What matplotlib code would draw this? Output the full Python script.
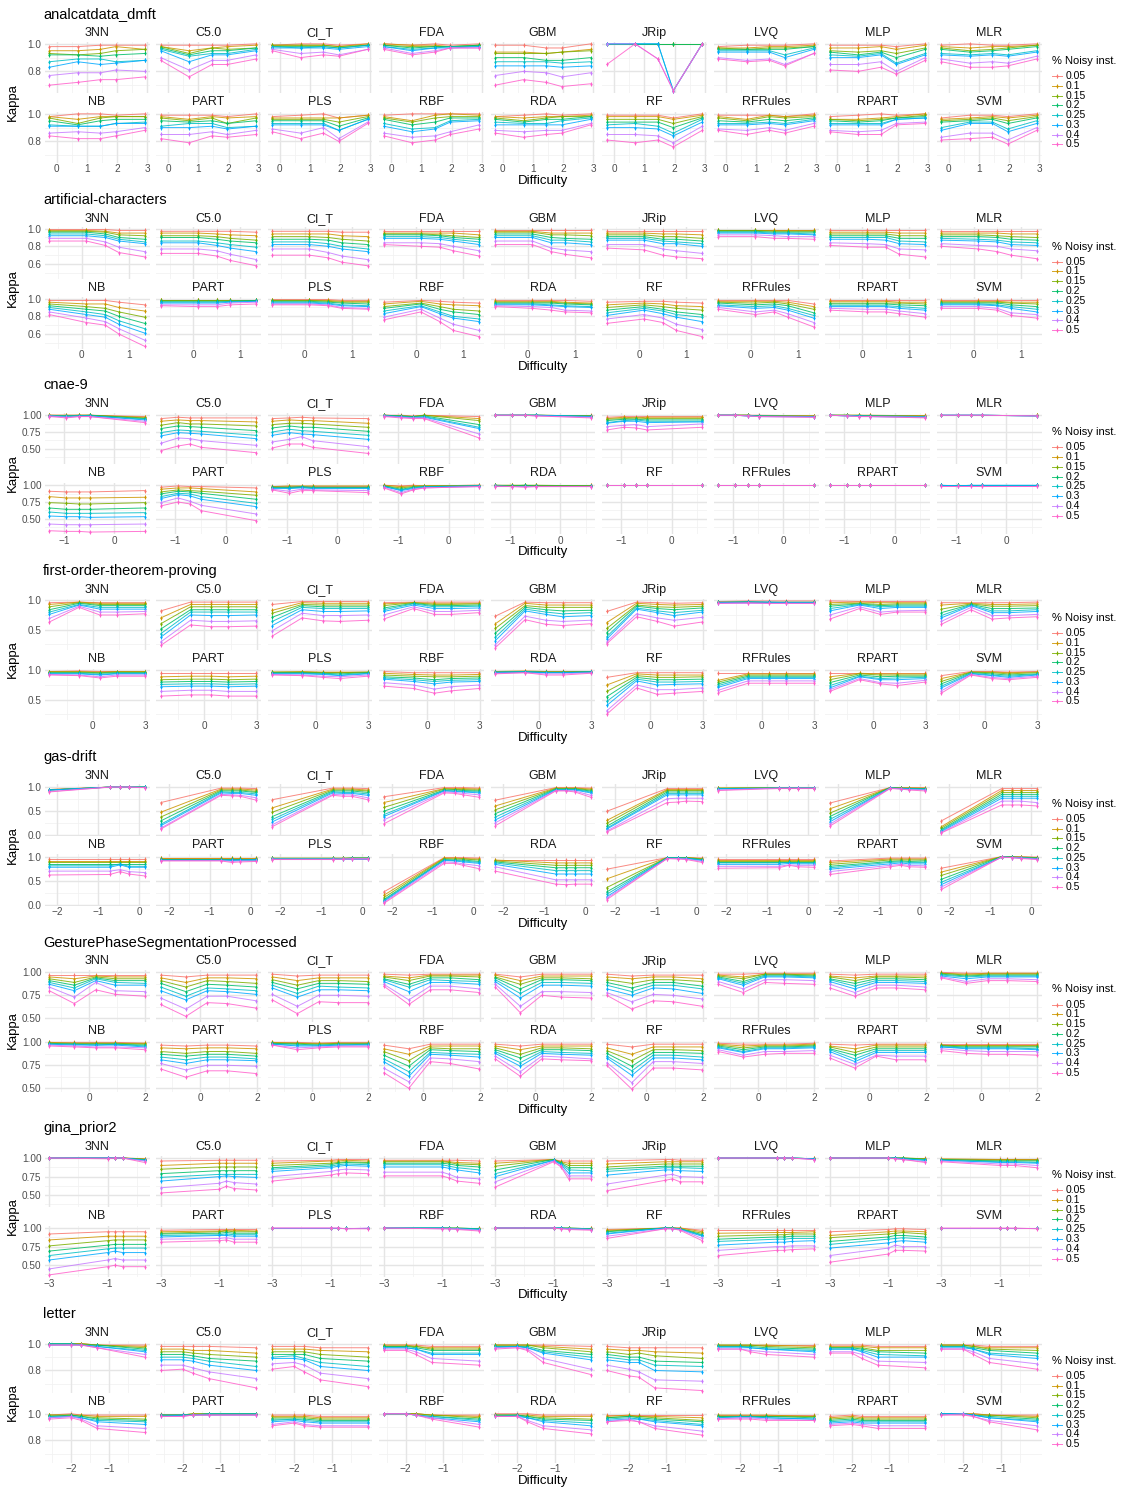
import matplotlib
matplotlib.use("Agg")
import matplotlib.pyplot as plt
from matplotlib.lines import Line2D
import numpy as np

plt.rcParams['font.family'] = ['Liberation Sans', 'DejaVu Sans']

W, H = 1128, 1490

NOISE_LEVELS = ["0.05", "0.1", "0.15", "0.2", "0.25", "0.3", "0.4", "0.5"]
NOISE_COLORS = ["#F8766D", "#CD9600", "#7CAE00", "#00BE67",
                "#00BFC4", "#00A9FF", "#C77CFF", "#FF61CC"]
CLASSIFIERS = ["3NN", "C5.0", "CI_T", "FDA", "GBM", "JRip", "LVQ", "MLP", "MLR",
               "NB", "PART", "PLS", "RBF", "RDA", "RF", "RFRules", "RPART", "SVM"]

# Difficulty values of the five test partitions of each dataset
X_ANALCAT = [-0.25, 0.69, 1.45, 1.96, 2.92]
X_ARTIF = [-0.69, 0.10, 0.50, 0.79, 1.34]
X_CNAE = [-1.29, -0.95, -0.71, -0.49, 0.60]
X_FOTP = [-2.49, -0.79, 0.40, 1.35, 2.96]
X_GAS = [-2.20, -0.72, -0.46, -0.25, 0.14]
X_GESTURE = [-1.41, -0.52, 0.24, 0.94, 1.98]
X_GINA = [-3.0, -1.0, -0.75, -0.49, 0.27]
X_LETTER = [-2.58, -2.0, -1.73, -1.31, -0.05]

# Kappa x 100; rows separated by "|" follow NOISE_LEVELS, columns follow difficulty
KAPPA_ANALCAT = {
    "3NN": "98 98 99 99 99|95 95 96 98 96|93 92 93 95 96|92 92 91 92 93|87 89 89 87 88|83 87 85 86 88|77 79 79 81 80|70 72 74 74 76",
    "C5.0": "99 99 99 99 100|98 95 97 98 99|98 93 97 96 97|97 92 95 95 97|96 91 93 93 96|95 87 92 92 95|90 81 88 88 92|88 76 85 85 89",
    "CI_T": "99 100 100 99 100|99 99 99 98 100|99 99 99 98 99|98 98 98 97 99|98 97 98 97 99|97 97 97 96 98|96 93 94 92 96|95 90 92 91 96",
    "FDA": "100 99 100 99 100|100 99 99 98 99|99 98 98 98 99|99 97 98 98 99|98 96 97 98 98|98 95 97 97 98|97 93 95 97 97|96 92 94 97 97",
    "GBM": "99 99 97 97 100|94 94 93 94 96|93 93 93 94 95|90 90 88 88 90|87 87 87 86 87|84 84 84 83 84|77 80 79 76 79|70 74 72 69 71",
    "JRip": "100 100 100 100 100|100 100 100 100 100|100 100 100 100 100|100 100 100 100 100|100 100 100 66 100|100 100 100 66 100|100 100 89 66 100|85 100 89 66 100",
    "LVQ": "98 99 99 99 100|97 97 98 98 99|97 96 97 97 98|96 96 96 96 98|95 95 95 92 97|94 94 94 90 96|90 88 89 85 93|89 87 88 84 93",
    "MLP": "99 99 99 98 100|97 97 98 96 99|95 94 95 93 97|94 92 94 90 96|92 91 93 86 93|90 90 92 85 92|85 85 87 80 90|81 80 83 78 88",
    "MLR": "99 100 99 99 100|98 97 98 98 99|97 95 96 97 99|96 94 95 96 98|93 92 93 92 95|92 91 92 91 94|89 86 87 86 91|87 83 83 84 89",
    "NB": "98 100 100 99 100|98 96 98 98 98|97 93 97 98 98|95 92 95 96 96|92 91 91 93 94|91 91 91 93 93|86 87 86 87 90|84 82 82 84 88",
    "PART": "99 99 99 98 100|98 96 98 97 98|97 95 97 93 97|95 94 95 93 95|91 93 93 90 91|90 90 91 89 91|85 85 87 85 88|82 79 84 83 85",
    "PLS": "98 99 100 97 99|97 97 97 97 99|96 96 96 94 98|95 95 95 91 97|93 93 93 88 96|92 92 92 88 96|89 86 90 82 94|87 82 86 80 93",
    "RBF": "99 100 100 100 100|98 95 99 100 99|97 94 97 98 98|96 92 94 97 97|93 89 90 95 96|91 87 89 94 95|86 83 84 87 92|84 79 81 85 89",
    "RDA": "98 99 100 99 100|98 97 98 98 99|97 95 97 98 98|96 94 96 96 98|94 93 93 95 97|92 92 92 92 96|88 87 88 88 93|86 83 85 86 92",
    "RF": "99 99 99 97 100|98 98 98 96 99|96 96 96 93 98|94 94 94 90 97|92 93 91 86 96|90 90 89 84 94|85 85 84 79 91|81 79 81 76 88",
    "RFRules": "99 99 99 98 100|98 96 99 98 99|97 95 98 97 98|95 94 96 95 97|93 93 94 93 96|92 92 93 92 95|89 88 90 88 93|88 85 88 86 91",
    "RPART": "98 99 100 99 100|96 96 97 98 100|96 95 96 97 99|95 94 95 97 98|93 93 93 96 97|92 92 92 96 97|88 87 88 93 94|87 85 85 92 93",
    "SVM": "97 99 99 98 100|96 97 98 97 99|95 96 97 95 98|94 95 96 93 97|90 94 94 89 95|88 93 93 87 93|83 86 86 81 90|81 82 83 78 88",
}

KAPPA_ARTIF = {
    "3NN": "99 99 99 98 98|98 98 97 95 95|97 97 96 93 92|96 96 94 90 88|94 94 92 88 85|92 92 90 86 83|89 89 85 79 74|86 86 81 73 68",
    "C5.0": "97 97 97 97 96|95 95 94 93 92|92 92 91 89 87|90 90 88 86 84|86 86 84 82 79|84 84 81 78 74|77 77 75 71 65|72 72 69 64 58",
    "CI_T": "97 97 97 96 96|94 94 94 92 91|91 91 90 88 86|88 88 87 84 82|85 85 83 80 77|82 82 80 77 74|77 77 73 69 65|70 70 67 62 58",
    "FDA": "97 97 97 97 97|95 95 95 95 93|94 94 93 92 90|93 93 92 90 88|91 91 90 88 85|89 89 88 86 82|84 84 83 80 75|82 80 79 75 69",
    "GBM": "98 98 98 98 98|97 97 95 95 95|96 96 93 93 92|94 94 90 89 88|92 92 87 87 85|90 90 84 84 82|86 86 78 76 74|82 82 74 71 67",
    "JRip": "97 97 97 97 97|95 95 94 94 93|93 93 91 91 89|91 91 88 88 86|89 89 86 85 83|87 87 83 83 80|82 82 77 75 72|78 76 70 68 66",
    "LVQ": "99 99 99 99 99|98 98 98 98 98|98 98 97 97 97|97 97 96 96 96|96 96 95 95 94|95 95 94 94 93|93 93 92 91 91|91 91 89 89 88",
    "MLP": "98 98 98 98 98|96 96 96 95 95|94 94 94 92 92|92 92 92 89 89|90 90 90 86 85|88 88 87 83 82|84 83 82 77 76|81 79 79 71 68",
    "MLR": "97 97 97 97 97|95 95 95 94 94|93 93 92 91 90|91 91 90 88 87|89 88 87 85 84|87 86 85 82 81|83 81 80 77 75|80 77 74 70 66",
    "NB": "98 98 98 96 93|96 94 94 90 86|94 91 89 85 79|92 88 86 80 72|90 85 82 75 66|88 82 79 71 61|85 78 74 66 53|82 73 70 60 46",
    "PART": "99 99 99 99 99|98 98 98 98 98|98 98 98 98 98|97 97 97 97 98|96 96 96 97 97|95 95 95 96 97|93 93 93 95 96|92 91 91 93 94",
    "PLS": "99 99 99 98 98|98 98 98 97 97|98 98 97 96 96|97 97 96 95 94|96 96 95 93 92|95 95 94 92 91|94 94 93 90 89|93 93 92 89 88",
    "RBF": "96 98 97 96 95|94 97 94 93 92|91 95 91 88 86|89 94 88 85 82|86 92 85 80 77|83 91 83 78 74|79 88 78 71 64|76 85 74 64 57",
    "RDA": "98 98 98 98 97|97 97 97 96 95|96 96 96 95 94|95 95 95 94 93|94 94 93 92 91|93 93 92 91 90|92 91 90 87 86|91 89 87 85 84",
    "RF": "96 97 97 96 95|93 95 94 92 91|90 93 91 89 87|87 91 88 85 82|84 89 86 82 79|81 87 83 79 74|77 82 78 71 65|72 77 73 64 57",
    "RFRules": "98 98 98 98 94|97 97 97 96 91|96 95 96 94 88|95 93 94 92 84|93 91 92 89 81|92 89 90 87 78|90 85 87 83 73|88 82 85 79 68",
    "RPART": "98 98 98 98 98|97 97 97 96 96|95 95 95 95 94|94 94 94 93 92|92 92 92 91 89|91 91 91 89 87|89 88 88 86 83|87 85 85 83 79",
    "SVM": "98 98 98 98 98|97 97 97 96 96|96 96 96 95 94|95 95 95 93 91|94 94 93 91 88|93 93 92 89 85|91 91 89 84 82|89 89 87 81 78",
}

KAPPA_CNAE = {
    "3NN": "100 100 100 100 98|100 100 100 100 97|100 99 100 100 96|99 99 99 100 95|99 99 99 99 94|99 98 99 99 93|99 97 98 98 91|98 96 98 98 89",
    "C5.0": "95 97 96 96 96|91 93 92 92 90|85 89 87 87 84|80 84 83 82 77|74 78 77 76 70|69 74 73 72 65|58 66 65 62 55|47 54 57 52 44",
    "CI_T": "95 96 97 96 95|91 93 92 92 88|86 88 88 87 82|81 84 82 82 76|75 79 77 76 70|70 74 72 71 64|60 64 68 62 53|51 57 57 52 43",
    "FDA": "100 100 99 100 98|100 99 98 100 95|100 99 98 100 92|100 99 98 99 86|99 98 97 98 82|99 98 96 97 80|99 97 96 96 72|98 96 95 95 66",
    "GBM": "100 100 100 100 100|100 100 100 100 99|100 100 100 100 99|100 100 100 100 99|100 100 100 100 98|100 100 100 100 98|100 100 100 99 97|100 100 100 99 96",
    "JRip": "97 98 98 98 98|95 97 96 97 97|94 95 96 95 95|92 94 94 93 93|89 92 93 91 91|88 91 91 89 90|83 85 86 83 87|78 82 81 78 82",
    "LVQ": "100 100 100 100 99|100 100 100 99 99|100 100 100 99 99|100 100 100 99 98|100 100 99 99 98|100 100 99 98 98|100 100 99 98 97|100 100 99 98 97",
    "MLP": "100 100 100 100 100|100 100 100 100 99|100 100 100 99 99|100 100 99 99 98|100 99 99 99 98|100 99 99 98 97|100 99 98 98 97|100 99 98 98 96",
    "MLR": "100 100 100 100 100|100 100 100 100 100|100 100 100 100 100|100 100 100 100 99|100 100 100 100 99|100 100 100 100 99|100 100 100 100 99|100 100 100 100 99",
    "NB": "91 90 90 90 92|83 81 81 81 82|74 73 72 72 74|66 64 64 64 66|60 58 58 58 59|54 53 53 52 53|42 41 41 41 42|32 31 31 30 31",
    "PART": "97 99 98 98 96|94 96 96 95 90|90 93 92 91 85|87 91 90 88 79|83 88 87 83 73|80 86 84 79 68|74 81 76 70 57|69 75 72 62 47",
    "PLS": "99 99 99 99 99|98 99 99 99 99|98 98 98 98 98|97 97 98 97 97|96 96 97 96 96|95 95 96 95 95|94 91 94 93 92|93 88 92 92 89",
    "RBF": "100 99 100 99 100|100 98 99 99 100|99 96 98 99 99|99 94 97 98 99|98 93 96 98 99|98 92 95 97 99|97 89 94 96 98|96 87 93 96 98",
    "RDA": "100 100 100 100 100|100 100 100 100 100|100 100 100 100 99|100 99 100 99 99|99 99 99 99 99|99 99 99 99 99|99 98 98 98 98|98 98 97 98 98",
    "RF": "100 100 100 100 100|100 100 100 100 100|100 100 100 100 100|100 100 100 100 100|100 100 100 100 100|100 100 100 100 100|100 100 100 100 100|100 100 100 100 100",
    "RFRules": "100 100 100 100 100|100 100 100 100 100|100 100 100 100 100|100 100 100 100 100|100 100 100 100 100|100 100 100 100 100|100 100 100 100 100|100 100 100 100 100",
    "RPART": "100 100 100 100 100|100 100 100 100 100|100 100 100 100 100|100 100 100 100 100|100 100 100 100 100|100 100 100 100 100|100 100 100 100 100|100 100 100 100 100",
    "SVM": "100 100 100 100 100|100 100 100 100 100|100 100 100 100 100|100 100 100 100 100|100 100 100 100 100|100 99 100 100 100|99 99 99 99 99|99 99 99 99 99",
}

KAPPA_FOTP = {
    "3NN": "96 97 96 96 96|93 97 95 95 95|89 96 93 93 93|84 95 91 91 91|80 93 88 88 88|76 92 85 85 85|69 90 80 80 81|63 88 75 75 77",
    "C5.0": "82 97 97 97 97|70 93 93 93 93|60 89 89 89 89|51 84 84 84 84|43 80 80 80 80|37 75 74 74 75|29 66 64 64 65|23 58 55 55 56",
    "CI_T": "93 98 98 98 98|83 96 95 95 95|78 93 92 92 92|71 91 89 89 89|64 88 86 86 86|57 84 81 81 82|48 78 74 74 75|39 70 65 64 66",
    "FDA": "96 97 97 97 97|94 96 95 95 95|91 96 93 93 94|87 95 91 91 92|84 94 89 89 90|81 92 86 86 87|75 89 81 81 83|68 86 76 76 79",
    "GBM": "73 97 96 96 96|60 95 92 92 92|52 91 88 88 88|44 88 84 82 83|37 85 80 77 79|31 82 76 72 74|24 73 66 64 66|19 67 59 57 60",
    "JRip": "81 97 96 95 96|62 95 93 92 93|52 92 89 88 90|45 90 86 84 87|38 87 82 79 83|34 85 79 74 80|29 77 70 66 71|26 72 64 56 63",
    "LVQ": "98 99 99 99 99|98 98 98 98 98|98 98 98 98 98|97 98 97 97 97|97 97 97 97 97|96 97 97 96 96|96 96 96 96 96|95 96 95 95 95",
    "MLP": "99 98 98 98 98|96 97 96 96 96|93 95 93 94 94|90 94 91 92 92|86 93 89 90 90|82 92 86 88 88|75 89 80 82 83|68 86 76 80 80",
    "MLR": "96 96 96 96 97|92 95 93 93 94|85 94 90 90 91|79 93 86 86 87|74 92 82 82 84|70 91 79 79 81|64 88 74 74 76|59 84 68 70 72",
    "NB": "98 99 98 98 98|98 98 97 98 98|97 97 96 97 97|96 96 95 96 96|95 95 93 95 95|94 94 92 94 94|93 92 89 92 92|92 91 87 90 90",
    "PART": "95 95 95 95 95|89 90 90 89 90|84 85 85 84 85|80 81 81 80 81|76 77 77 76 77|72 73 73 72 73|64 66 66 64 64|56 58 58 56 56",
    "PLS": "98 98 98 98 98|97 98 97 97 97|97 97 96 96 97|96 96 95 94 96|95 95 94 92 95|94 94 93 91 94|93 92 90 89 92|92 91 88 86 90",
    "RBF": "98 96 96 96 96|95 93 92 92 93|92 90 89 89 90|89 87 84 86 87|87 84 81 83 84|85 81 77 80 81|79 75 68 72 75|73 69 61 65 69",
    "RDA": "99 99 99 99 99|98 99 98 98 98|98 98 98 98 98|97 98 97 97 98|97 98 96 96 97|96 97 96 96 97|95 96 94 94 96|94 96 92 92 95",
    "RF": "88 96 96 96 96|75 94 92 92 92|64 91 88 88 89|55 88 84 84 85|47 85 80 80 81|40 82 75 76 77|31 75 67 67 70|25 70 59 61 64",
    "RFRules": "96 96 96 96 96|83 94 94 94 94|80 92 92 92 92|77 90 90 90 90|74 88 88 88 88|71 86 86 86 86|66 82 82 82 82|62 78 78 78 78",
    "RPART": "96 96 96 96 96|89 95 94 94 94|84 94 92 92 92|79 92 89 90 90|74 90 86 87 88|70 89 84 84 86|67 86 79 78 83|64 84 77 74 80",
    "SVM": "91 98 98 97 98|86 97 97 96 97|81 97 96 94 96|77 96 94 92 94|73 95 92 90 93|70 94 91 88 92|65 93 88 86 90|61 92 86 84 88",
}

KAPPA_GAS = {
    "3NN": "94 99 99 99 99|94 99 99 99 99|93 99 99 99 99|93 99 99 99 99|93 99 99 99 99|93 99 99 99 99|90 99 99 99 98|89 99 99 99 98",
    "C5.0": "67 97 97 97 96|47 95 95 95 93|37 93 93 93 90|29 91 91 91 88|22 89 88 88 85|19 87 86 86 82|14 84 83 82 77|12 82 81 80 72",
    "CI_T": "73 97 97 97 96|56 95 95 95 93|47 93 93 93 91|38 91 91 91 88|32 89 88 88 85|27 87 86 86 82|21 84 83 83 77|17 82 80 80 73",
    "FDA": "79 98 98 98 97|67 96 96 96 95|57 95 94 94 93|49 93 93 92 91|42 92 91 90 89|38 91 90 89 87|31 89 88 86 83|23 87 86 83 78",
    "GBM": "72 98 98 98 97|60 97 97 97 95|52 96 96 96 93|44 95 95 95 91|37 94 94 94 89|31 93 93 93 87|25 92 92 91 82|19 91 91 89 78",
    "JRip": "49 96 96 96 96|30 94 94 94 94|24 92 92 92 92|18 89 89 89 89|14 86 86 86 86|12 83 83 83 83|8 75 76 76 76|6 67 68 70 69",
    "LVQ": "98 98 98 98 98|97 98 98 98 98|97 98 98 98 98|96 97 97 97 97|96 97 97 97 97|95 97 97 97 97|93 97 97 97 97|92 96 96 96 96",
    "MLP": "66 98 98 98 98|54 98 97 97 97|45 98 97 97 96|38 98 97 96 96|32 97 96 96 95|27 97 96 95 94|22 97 95 94 93|18 96 95 93 91",
    "MLR": "29 96 96 96 96|17 92 92 92 92|14 88 88 88 88|11 84 84 84 84|9 80 80 80 80|7 76 76 76 76|5 70 70 70 67|4 62 62 62 60",
    "NB": "95 95 95 95 95|91 91 91 91 91|88 88 88 88 88|84 84 84 84 84|81 81 85 80 80|78 78 83 78 78|70 70 73 69 67|62 63 69 64 60",
    "PART": "98 98 98 98 98|97 97 97 97 97|96 96 96 96 96|95 95 95 95 95|94 94 94 94 94|93 93 93 93 94|92 92 90 91 91|91 91 88 89 90",
    "PLS": "98 98 98 98 98|98 98 98 98 98|97 97 97 98 98|97 97 97 97 97|96 96 96 97 97|96 96 96 96 96|95 95 95 96 96|94 94 95 95 95",
    "RBF": "27 98 98 98 97|20 97 97 96 95|15 96 95 95 93|11 94 93 93 90|9 93 92 91 88|7 92 91 89 86|5 89 88 85 81|3 86 86 82 75",
    "RDA": "94 94 94 94 94|93 87 87 87 87|91 82 82 82 82|89 77 77 77 77|87 71 71 71 71|84 64 64 64 64|79 52 52 52 52|70 43 42 43 43",
    "RF": "74 98 98 98 97|54 98 98 98 96|36 98 98 98 95|27 98 98 97 94|22 97 97 97 93|17 97 97 96 92|14 96 96 95 90|11 96 95 94 88",
    "RFRules": "95 95 95 95 95|93 93 93 93 93|91 91 91 91 91|89 89 89 89 89|87 87 88 87 87|84 84 86 85 85|80 80 83 82 82|76 77 82 79 78",
    "RPART": "91 97 97 97 97|88 95 95 95 95|84 93 93 93 93|80 90 91 90 91|77 88 89 88 88|74 85 87 85 85|69 82 84 82 81|63 79 82 79 78",
    "SVM": "76 100 100 100 99|68 100 100 99 98|61 100 99 99 98|53 100 99 98 97|47 99 99 98 96|42 99 98 97 96|37 99 98 97 95|32 99 98 96 94",
}

KAPPA_GESTURE = {
    "3NN": "97 97 97 97 97|95 93 96 95 95|93 89 95 93 93|91 86 94 91 91|89 83 93 89 88|87 80 91 86 86|84 73 89 80 79|80 66 81 76 74",
    "C5.0": "97 95 97 97 97|94 89 94 94 93|91 84 91 90 88|88 79 87 86 84|84 74 83 82 80|80 70 80 79 76|72 60 74 74 69|65 52 67 66 61",
    "CI_T": "98 96 97 97 97|95 91 94 94 94|92 86 91 91 90|89 82 88 88 87|86 77 85 84 83|83 73 81 81 80|76 63 75 75 74|70 55 68 67 67",
    "FDA": "98 97 98 98 98|96 94 97 97 97|95 91 96 96 95|93 87 94 94 92|92 84 92 91 90|90 79 89 89 87|87 70 85 85 82|85 65 81 81 78",
    "GBM": "98 95 98 98 98|97 91 96 96 96|95 87 94 94 93|94 82 92 92 91|92 77 89 89 88|90 72 86 86 85|87 63 79 79 78|84 56 75 73 72",
    "JRip": "98 96 97 97 97|95 93 95 95 93|92 88 92 92 90|89 83 89 89 85|86 79 86 86 82|82 75 83 82 77|78 68 76 75 71|75 60 69 68 63",
    "LVQ": "98 98 99 99 99|97 95 98 98 98|96 93 98 98 97|95 90 97 97 96|94 88 96 96 95|93 86 95 95 94|90 82 92 92 91|87 78 89 88 87",
    "MLP": "98 97 98 98 98|96 94 96 96 96|95 91 95 95 94|93 88 93 93 92|92 85 91 91 90|90 82 89 89 88|87 78 86 86 84|83 74 83 83 81",
    "MLR": "100 99 99 99 99|99 98 99 99 99|99 97 98 98 98|98 96 97 97 97|97 95 96 96 96|96 93 95 95 95|95 90 93 93 92|94 88 91 91 90",
    "NB": "100 100 100 100 99|100 99 99 99 99|99 99 99 99 98|99 98 98 98 97|98 98 97 98 96|98 97 97 97 95|97 96 95 95 94|96 95 94 94 92",
    "PART": "97 96 97 97 96|94 93 94 94 93|90 88 90 90 88|87 85 87 87 85|84 81 84 84 82|81 77 81 81 80|77 70 75 75 74|71 62 69 69 66",
    "PLS": "100 100 99 100 100|100 99 99 99 99|99 99 98 99 99|99 98 97 98 98|98 97 97 97 98|98 96 96 97 97|97 94 95 96 96|97 92 94 95 95",
    "RBF": "97 93 98 98 98|93 87 96 96 96|90 80 94 93 93|86 74 92 91 90|82 68 89 88 87|79 63 87 86 84|72 57 83 82 79|67 50 79 77 71",
    "RDA": "98 96 98 98 98|96 92 96 96 96|94 87 94 94 93|92 83 92 92 91|90 78 90 89 88|88 74 88 87 86|85 68 85 84 82|82 63 82 81 80",
    "RF": "98 95 98 98 98|94 87 95 95 95|91 80 92 92 91|88 74 89 89 88|85 69 86 86 84|83 64 83 83 81|78 56 79 79 77|75 49 72 72 70",
    "RFRules": "99 98 98 98 99|98 96 97 97 98|97 94 96 96 97|96 92 95 95 96|95 90 94 94 95|94 89 93 93 94|92 86 90 90 91|90 84 87 88 88",
    "RPART": "98 97 98 98 98|96 93 97 97 97|95 89 95 95 95|93 86 93 93 93|92 82 91 91 91|90 79 89 89 89|86 76 86 85 85|83 72 85 81 81",
    "SVM": "98 98 98 98 98|97 97 97 97 97|97 96 96 96 96|96 95 95 95 95|95 94 94 94 93|95 93 93 93 92|93 91 90 90 90|91 88 87 87 86",
}

KAPPA_GINA = {
    "3NN": "100 100 100 100 99|100 100 100 100 99|100 100 100 100 98|100 100 100 100 98|100 100 100 100 97|100 100 100 100 97|100 100 100 100 96|100 99 100 100 94",
    "C5.0": "96 97 97 97 97|90 93 93 93 93|85 88 88 88 88|79 83 83 83 83|74 78 78 78 78|69 75 76 75 74|60 66 69 67 65|53 58 62 59 57",
    "CI_T": "96 97 98 98 98|93 96 96 97 96|90 93 94 95 94|87 91 93 94 93|85 89 91 92 91|82 87 89 90 89|75 82 84 85 84|69 77 79 80 79",
    "FDA": "97 97 97 97 96|96 96 95 94 93|95 95 94 92 91|93 93 92 90 88|91 91 89 87 84|88 88 86 84 80|81 81 78 74 72|76 76 73 69 66",
    "GBM": "96 98 96 96 96|93 98 95 93 93|89 98 94 90 90|84 98 93 87 87|79 97 92 84 83|75 97 91 80 80|68 96 89 76 76|61 95 88 72 72",
    "JRip": "96 98 98 97 97|92 95 95 95 95|88 92 92 92 92|85 89 89 89 89|82 87 87 87 86|77 84 84 83 82|65 77 78 75 74|56 70 72 68 68",
    "LVQ": "100 100 100 100 100|100 100 100 100 100|100 100 100 100 99|100 100 100 100 99|100 100 100 100 99|100 100 100 100 99|100 100 100 100 98|100 100 100 100 98",
    "MLP": "100 100 100 100 100|100 100 100 100 99|100 100 100 100 99|100 100 100 100 98|100 100 100 99 97|100 100 100 99 97|100 100 99 98 95|100 100 99 98 94",
    "MLR": "99 99 99 99 99|99 98 98 98 98|98 97 97 97 97|98 96 96 96 96|97 95 95 95 94|97 94 94 94 93|96 92 92 92 90|95 90 90 90 87",
    "NB": "92 95 95 95 95|84 89 89 89 89|76 83 84 84 84|69 77 78 78 78|63 72 73 73 73|57 67 69 67 67|45 57 59 57 57|37 48 50 48 48",
    "PART": "97 98 98 98 98|95 96 97 97 96|93 95 96 95 95|92 93 94 93 93|90 91 92 91 91|88 90 90 89 89|85 86 87 85 85|81 83 84 81 81",
    "PLS": "100 100 100 100 100|100 100 100 100 100|100 100 100 100 100|100 100 100 100 100|100 100 100 100 100|100 100 100 100 100|100 100 100 99 100|100 100 100 99 99",
    "RBF": "100 100 100 100 100|100 100 100 100 100|100 100 100 100 99|100 100 100 100 99|100 100 100 99 99|100 100 99 99 98|100 99 99 99 97|100 99 99 98 96",
    "RDA": "100 100 100 100 100|100 100 100 100 100|100 100 100 100 99|100 100 100 100 99|100 100 100 99 99|100 100 100 99 98|100 100 99 99 98|100 100 99 98 97",
    "RF": "98 100 100 100 97|97 100 100 100 95|96 100 100 99 93|95 100 100 99 91|93 100 100 99 90|92 100 99 98 89|89 99 99 98 86|86 99 99 97 83",
    "RFRules": "97 97 97 97 97|93 94 94 94 95|89 91 91 92 92|85 88 88 89 89|82 85 85 86 86|77 81 81 82 83|70 75 75 76 76|63 70 70 71 72",
    "RPART": "95 98 99 99 98|90 95 96 96 95|87 92 93 94 92|82 88 90 90 88|78 85 86 87 85|73 80 82 83 81|63 73 77 75 75|54 65 70 70 69",
    "SVM": "100 100 100 100 100|100 100 100 100 100|100 100 100 100 100|100 100 100 100 100|100 100 100 100 100|100 100 100 100 100|100 100 100 100 100|100 100 100 100 99",
}

KAPPA_LETTER = {
    "3NN": "100 100 100 99 99|100 100 100 99 98|100 100 100 99 97|100 100 99 99 96|100 100 99 98 95|99 99 99 98 94|99 99 99 97 92|99 99 99 97 90",
    "C5.0": "98 98 98 98 97|96 96 95 95 93|94 94 93 92 90|92 92 91 89 87|90 90 89 87 83|88 88 87 84 80|84 84 82 79 74|80 81 78 74 67",
    "CI_T": "98 98 98 97 97|96 96 96 95 94|94 94 94 92 90|92 92 92 89 87|90 91 89 86 83|89 89 88 83 80|85 86 84 78 74|81 83 79 73 68",
    "FDA": "99 99 99 98 98|99 99 98 97 97|98 98 98 96 96|98 98 97 95 95|97 97 96 93 93|97 97 96 92 92|96 96 94 89 87|95 95 92 86 84",
    "GBM": "99 99 99 99 98|99 99 99 98 96|99 99 99 97 94|98 98 98 95 92|98 98 97 94 90|97 98 97 93 88|97 97 96 89 81|96 97 95 86 77",
    "JRip": "98 97 97 97 97|96 95 95 94 93|94 92 93 91 89|92 90 90 87 86|90 88 88 84 83|88 86 86 80 79|84 81 79 73 72|80 76 75 67 65",
    "LVQ": "99 99 99 99 99|99 99 99 99 98|99 99 99 98 97|98 98 98 97 96|98 98 97 96 95|97 97 97 96 94|96 96 95 94 92|96 96 94 92 90",
    "MLP": "99 99 99 98 98|98 98 98 97 97|97 97 97 95 95|97 97 96 94 93|96 96 95 92 91|96 96 94 90 90|94 94 92 87 86|93 93 89 84 82",
    "MLR": "99 99 99 98 98|99 99 98 97 97|99 99 98 96 95|98 98 97 95 93|98 98 96 93 91|97 97 96 92 89|96 96 94 89 85|96 96 92 86 81",
    "NB": "99 100 99 99 99|99 99 99 98 98|99 99 98 97 96|98 99 98 96 95|98 98 97 95 94|97 98 97 94 92|97 98 96 91 89|96 97 95 89 86",
    "PART": "100 100 100 100 100|99 99 100 100 100|99 99 100 100 100|99 99 99 100 100|99 99 99 100 100|98 99 99 99 99|98 98 99 99 99|98 98 99 99 99",
    "PLS": "99 99 99 98 98|98 98 98 97 97|97 97 97 96 96|96 96 96 95 95|95 96 95 94 94|94 95 94 93 93|92 94 92 91 91|91 93 91 90 90",
    "RBF": "100 100 100 99 99|100 100 100 99 98|100 100 100 99 97|100 100 99 98 96|100 100 99 98 95|100 100 99 97 94|100 100 99 97 92|100 100 99 96 90",
    "RDA": "100 100 100 99 99|99 99 99 98 98|99 99 98 97 96|99 99 98 96 95|98 99 97 95 93|98 98 97 94 91|98 98 95 91 88|98 98 94 89 85",
    "RF": "99 99 99 99 99|98 99 98 98 97|97 98 98 97 95|97 98 97 96 94|96 97 96 95 92|95 96 96 94 91|94 96 94 91 87|94 95 94 89 84",
    "RFRules": "99 99 99 99 99|99 99 99 99 98|98 98 98 98 98|98 98 98 98 97|97 98 98 97 96|97 97 97 97 96|96 97 97 96 95|96 96 96 95 95",
    "RPART": "98 99 98 98 98|97 98 97 97 97|96 97 96 96 96|95 96 95 95 95|94 95 94 94 94|93 94 93 93 93|92 93 92 91 91|91 92 91 89 89",
    "SVM": "100 100 100 99 99|100 100 100 99 98|100 100 99 99 97|100 100 99 98 96|100 100 99 97 95|100 100 99 97 94|99 100 98 95 91|99 99 98 94 88",
}

DATASET_NAMES = ["analcatdata_dmft", "artificial-characters", "cnae-9",
                 "first-order-theorem-proving", "gas-drift",
                 "GesturePhaseSegmentationProcessed", "gina_prior2", "letter"]
DATASET_X = [X_ANALCAT, X_ARTIF, X_CNAE, X_FOTP, X_GAS, X_GESTURE, X_GINA, X_LETTER]
DATASET_KAPPA = [KAPPA_ANALCAT, KAPPA_ARTIF, KAPPA_CNAE, KAPPA_FOTP, KAPPA_GAS,
                 KAPPA_GESTURE, KAPPA_GINA, KAPPA_LETTER]
X_BREAKS = [[0, 1, 2, 3], [0, 1], [-1, 0], [0, 3], [-2, -1, 0], [0, 2], [-3, -1], [-2, -1]]
Y_BREAKS = [[0.8, 1.0], [0.6, 0.8, 1.0], [0.5, 0.75, 1.0], [0.5, 1.0],
            [0.0, 0.5, 1.0], [0.5, 0.75, 1.0], [0.5, 0.75, 1.0], [0.8, 1.0]]
Y_LABEL_FMT = ["{:.1f}", "{:.1f}", "{:.2f}", "{:.1f}", "{:.1f}", "{:.2f}", "{:.2f}", "{:.1f}"]


def parse_block(text):
    return [[float(v) / 100.0 for v in row.split()] for row in text.split("|")]


def minor_breaks(major, lo, hi):
    step = (major[1] - major[0]) if len(major) > 1 else 1.0
    start = major[0] - step / 2.0
    while start - step > lo:
        start -= step
    vals = np.arange(start, hi + step, step)
    return [v for v in vals if lo <= v <= hi]


def expand(lo, hi, frac=0.05):
    pad = (hi - lo) * frac
    return lo - pad, hi + pad


def int_label(v):
    v = int(v)
    return ("\u2212" + str(-v)) if v < 0 else str(v)


# Layout in pixels
BLOCK_H = 185.7
PANEL_X0 = 44.5
PANEL_STEP = 111.5
PANEL_W = 105.0
PANEL_H = 51.5
ROW_TOP = [41.5, 111.5]
STRIP_Y = [33.0, 102.0]
GRID_MAJOR = "#E5E5E5"
GRID_MINOR = "#F2F2F2"
TICK_COLOR = "#4D4D4D"

fig = plt.figure(figsize=(W / 100, H / 100), dpi=100)
fig.patch.set_facecolor("white")


def fx(px):
    return px / W


def fy(py):
    return 1.0 - py / H


for b, name in enumerate(DATASET_NAMES):
    off = b * BLOCK_H
    xs = DATASET_X[b]
    kappa = DATASET_KAPPA[b]
    parsed = {clf: parse_block(kappa[clf]) for clf in CLASSIFIERS}
    all_vals = [v for clf in CLASSIFIERS for row in parsed[clf] for v in row]
    ylo, yhi = expand(min(all_vals), max(all_vals))
    xlo, xhi = expand(min(xs), max(xs))
    yminor = minor_breaks(Y_BREAKS[b], ylo, yhi)
    xminor = minor_breaks(X_BREAKS[b], xlo, xhi)
    ymajor = [v for v in Y_BREAKS[b] if ylo <= v <= yhi]
    xmajor = [v for v in X_BREAKS[b] if xlo <= v <= xhi]

    fig.text(fx(43), fy(off + 14), name, ha="left", va="center",
             fontsize=10.5, color="black")

    for ci, clf in enumerate(CLASSIFIERS):
        row, col = divmod(ci, 9)
        left = PANEL_X0 + col * PANEL_STEP
        top = off + ROW_TOP[row]
        ax = fig.add_axes([fx(left), fy(top + PANEL_H), PANEL_W / W, PANEL_H / H])
        ax.set_facecolor("white")
        for s in ax.spines.values():
            s.set_visible(False)
        ax.set_xlim(xlo, xhi)
        ax.set_ylim(ylo, yhi)
        for v in yminor:
            ax.axhline(v, color=GRID_MINOR, lw=0.6, zorder=0)
        for v in xminor:
            ax.axvline(v, color=GRID_MINOR, lw=0.6, zorder=0)
        for v in ymajor:
            ax.axhline(v, color=GRID_MAJOR, lw=1.0, zorder=0.5)
        for v in xmajor:
            ax.axvline(v, color=GRID_MAJOR, lw=1.0, zorder=0.5)

        for k, ys in enumerate(parsed[clf]):
            c = NOISE_COLORS[k]
            ax.plot(xs, ys, color=c, lw=0.7, alpha=0.85, zorder=2 + k * 0.1,
                    solid_capstyle="round")
            ax.plot(xs, ys, ls="none", marker="|", ms=3.2, mew=0.7, color=c,
                    zorder=2.05 + k * 0.1)
            ax.plot(xs, ys, ls="none", marker="o", ms=1.6, mew=0, color=c,
                    zorder=2.05 + k * 0.1)

        ax.set_xticks(xmajor)
        ax.set_yticks(ymajor)
        ax.tick_params(length=0, labelsize=7.2, labelcolor=TICK_COLOR, pad=2.2)
        if row == 1:
            ax.set_xticklabels([int_label(v) for v in xmajor])
            ax.tick_params(axis="x", pad=1.0)
        else:
            ax.set_xticklabels([])
        if col == 0:
            ax.set_yticklabels([Y_LABEL_FMT[b].format(v) for v in ymajor])
        else:
            ax.set_yticklabels([])

        fig.text(fx(left + PANEL_W / 2), fy(off + STRIP_Y[row]), clf,
                 ha="center", va="center", fontsize=9, color="#1A1A1A")

    # axis titles
    fig.text(fx(13), fy(off + 102), "Kappa", rotation=90, ha="center",
             va="center", fontsize=9.5, color="black")
    fig.text(fx(543), fy(off + 181), "Difficulty", ha="center", va="center",
             fontsize=9.5, color="black")

    # legend
    fig.text(fx(1052), fy(off + 61), "% Noisy inst.", ha="left", va="center",
             fontsize=8, color="black")
    for k, lab in enumerate(NOISE_LEVELS):
        yy = off + 76 + 9.76 * k
        fig.add_artist(Line2D([fx(1052), fx(1062)], [fy(yy), fy(yy)],
                              color=NOISE_COLORS[k], lw=0.7, alpha=0.85))
        fig.add_artist(Line2D([fx(1057)], [fy(yy)], ls="none", marker="o",
                              ms=1.6, mew=0, color=NOISE_COLORS[k]))
        fig.add_artist(Line2D([fx(1057)], [fy(yy)], ls="none", marker="|",
                              ms=3.2, mew=0.7, color=NOISE_COLORS[k]))
        fig.text(fx(1066), fy(yy), lab, ha="left", va="center",
                 fontsize=7.5, color="black")

fig.savefig("out.png", dpi=100, facecolor="white")
